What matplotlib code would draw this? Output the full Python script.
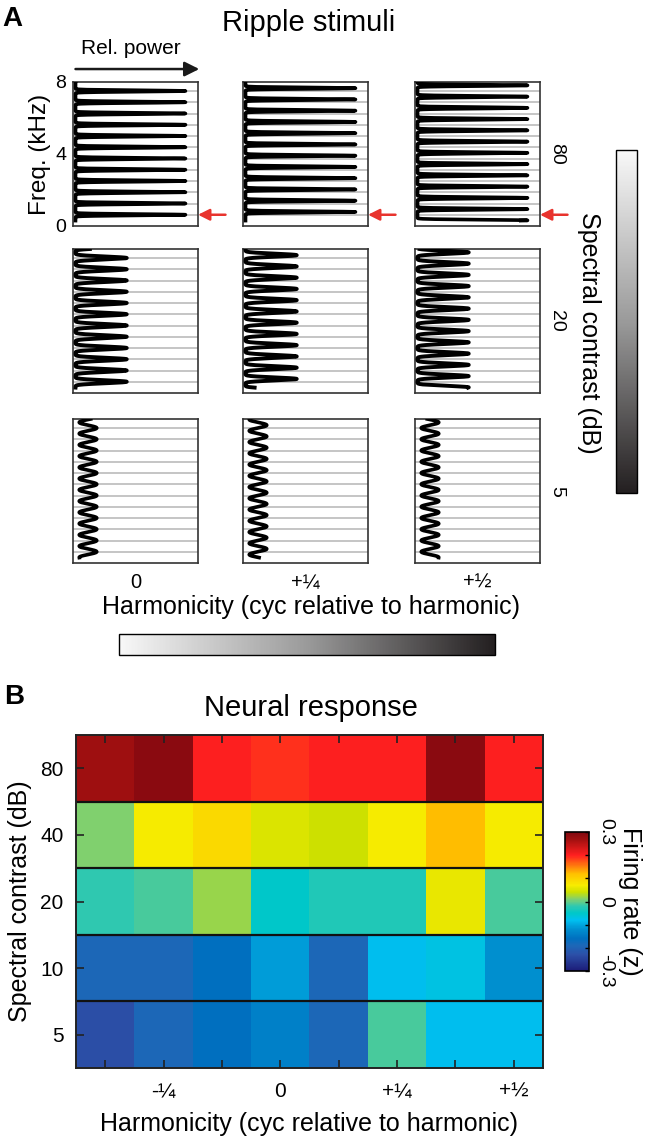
import numpy as np
import matplotlib
matplotlib.use('Agg')
import matplotlib.pyplot as plt
from matplotlib import font_manager
from matplotlib.colors import LinearSegmentedColormap, Normalize
from matplotlib.cm import ScalarMappable

# ---- data ----
# panel A: ripple stimuli
contrasts_a = [80, 20, 5]                 # dB, rows
shift_labels = ['0', '+\u00bc', '+\u00bd']  # columns
shifts = [0.0, 0.25, 0.5]                 # cycles relative to harmonic
f0 = 0.625                                # kHz, spacing of harmonics
n_harm = 12
f_lo, f_hi = 0.3, 8.0                     # kHz range of the drawn spectrum
trough_x = [0.02, 0.02, 0.05]             # rel. power at troughs, per contrast
peak_x = [0.90, 0.43, 0.19]               # rel. power at peaks, per contrast
sharpness = [16, 3, 1]                    # peak sharpness exponent, per contrast
line_w = [2.6, 2.8, 2.6]

# panel B: neural response (z-scored firing rate)
contrasts_b = [80, 40, 20, 10, 5]
harmonicity = [-3/8, -1/4, -1/8, 0, 1/8, 1/4, 3/8, 1/2]
harm_labels = ['', '-\u00bc', '', '0', '', '+\u00bc', '', '+\u00bd']
rate = np.array([
    [0.27, 0.29, 0.20, 0.19, 0.20, 0.20, 0.29, 0.20],
    [0.01, 0.07, 0.09, 0.05, 0.04, 0.07, 0.12, 0.07],
    [-0.02, -0.01, 0.02, -0.05, -0.03, -0.03, 0.06, -0.01],
    [-0.19, -0.19, -0.16, -0.11, -0.19, -0.08, -0.07, -0.12],
    [-0.23, -0.19, -0.16, -0.14, -0.19, -0.01, -0.08, -0.08],
])

W, H = 653, 1137


def rect(x0, y0, x1, y1):
    # pixel box (top-left origin) -> figure fraction
    return [x0 / W, 1 - y1 / H, (x1 - x0) / W, (y1 - y0) / H]


names = {f.name for f in font_manager.fontManager.ttflist}
sans = 'Liberation Sans' if 'Liberation Sans' in names else 'DejaVu Sans'
plt.rcParams['font.family'] = [sans, 'DejaVu Sans']

fig = plt.figure(figsize=(W / 100, H / 100), dpi=100)

# ---- panel A ----
col_x = [73, 243, 415]
row_y = [82, 249, 419]
box_w, box_h = 125, 144
freqs = np.linspace(f_lo, f_hi, 3000)
harmonics = f0 * np.arange(1, n_harm + 1)
axes_a = []
for i, c in enumerate(contrasts_a):
    for j, s in enumerate(shifts):
        ax = fig.add_axes(rect(col_x[j], row_y[i], col_x[j] + box_w, row_y[i] + box_h))
        for h in harmonics:
            ax.axhline(h, color='#b5b5b5', lw=1.1, zorder=1)
        g = ((1 + np.cos(2 * np.pi * (freqs / f0 - s))) / 2) ** sharpness[i]
        x = trough_x[i] + (peak_x[i] - trough_x[i]) * g
        ax.plot(x, freqs, color='black', lw=line_w[i], zorder=3)
        ax.set_xlim(0, 1)
        ax.set_ylim(0, 8)
        ax.set_xticks([])
        ax.set_yticks([])
        for sp in ax.spines.values():
            sp.set_color('#333333')
            sp.set_linewidth(1.2)
        if i == len(contrasts_a) - 1:
            ax.set_xticks([0.5])
            ax.set_xticklabels([shift_labels[j]], fontsize=14.5)
            ax.tick_params(axis='x', length=0, pad=7)
        if j == len(shifts) - 1:
            ax.text(1.13, 0.5, str(c), transform=ax.transAxes, rotation=-90,
                    ha='center', va='center', fontsize=14)
        if i == 0:
            ax.annotate('', xy=(1.0, f0), xytext=(1.22, f0),
                        xycoords=('axes fraction', 'data'), annotation_clip=False,
                        arrowprops=dict(arrowstyle='-|>', color='#e8332d', lw=1.8,
                                        mutation_scale=17, shrinkA=0, shrinkB=0))
        axes_a.append(ax)

ax0 = axes_a[0]
ax0.set_yticks([0, 4, 8])
ax0.tick_params(axis='y', length=0, labelsize=14, pad=5)
ax0.set_ylabel('Freq. (kHz)', fontsize=17.5, labelpad=3)
ax0.annotate('', xy=(1.01, 1.09), xytext=(0.02, 1.09), xycoords='axes fraction',
             annotation_clip=False,
             arrowprops=dict(arrowstyle='-|>', color='#1a1a1a', lw=1.8,
                             mutation_scale=22, shrinkA=0, shrinkB=0))
ax0.text(0.46, 1.23, 'Rel. power', transform=ax0.transAxes, ha='center',
         va='center', fontsize=15)

fig.text(12 / W, 1 - 19 / H, 'A', fontsize=20, weight='bold', ha='center', va='center')
fig.text(309 / W, 1 - 23 / H, 'Ripple stimuli', fontsize=21, ha='center', va='center')
fig.text(311 / W, 1 - 607 / H, 'Harmonicity (cyc relative to harmonic)',
         fontsize=18, ha='center', va='center')
fig.text(589 / W, 1 - 333 / H, 'Spectral contrast (dB)', fontsize=18,
         rotation=-90, ha='center', va='center')

grey = LinearSegmentedColormap.from_list('grey', ['#f8f8f8', '#9a9a9a', '#231f20'])
cax_v = fig.add_axes(rect(616, 150, 637, 493))
cb_v = fig.colorbar(ScalarMappable(Normalize(min(contrasts_a), max(contrasts_a)),
                                   grey.reversed()), cax=cax_v)
cb_v.set_ticks([])
cb_v.outline.set_linewidth(1.0)
cax_h = fig.add_axes(rect(119, 634, 495, 655))
cb_h = fig.colorbar(ScalarMappable(Normalize(min(shifts), max(shifts)), grey),
                    cax=cax_h, orientation='horizontal')
cb_h.set_ticks([])
cb_h.outline.set_linewidth(1.0)

# ---- panel B ----
rate_cmap = LinearSegmentedColormap.from_list('rate', [
    (0.000, '#1c1c78'), (0.117, '#2c50a8'), (0.183, '#1c68b8'),
    (0.233, '#0070c0'), (0.300, '#0090d0'), (0.367, '#00c0f0'),
    (0.417, '#00c8c8'), (0.467, '#30c8b0'), (0.517, '#80d070'),
    (0.567, '#cce000'), (0.617, '#f8ec00'), (0.700, '#ffc000'),
    (0.767, '#ff7010'), (0.833, '#ff2020'), (0.950, '#a01010'),
    (1.000, '#800810')])

axb = fig.add_axes(rect(76, 735, 543, 1068))
im = axb.imshow(rate, cmap=rate_cmap, vmin=-0.3, vmax=0.3, aspect='auto',
                interpolation='nearest')
for k in range(1, len(contrasts_b)):
    axb.axhline(k - 0.5, color='#111111', lw=1.6)
axb.set_xticks(range(len(harmonicity)))
axb.set_xticklabels(harm_labels)
axb.set_yticks(range(len(contrasts_b)))
axb.set_yticklabels([str(c) for c in contrasts_b])
axb.tick_params(direction='in', length=6, width=1.2, top=True, right=True,
                labelsize=15, color='#222222')
axb.tick_params(axis='x', pad=10)
axb.tick_params(axis='y', pad=9)
for sp in axb.spines.values():
    sp.set_linewidth(1.4)
    sp.set_color('#222222')
axb.set_xlabel('Harmonicity (cyc relative to harmonic)', fontsize=18, labelpad=8)
axb.set_ylabel('Spectral contrast (dB)', fontsize=18, labelpad=6)
fig.text(14 / W, 1 - 697 / H, 'B', fontsize=20, weight='bold', ha='center', va='center')
fig.text(311 / W, 1 - 708 / H, 'Neural response', fontsize=21, ha='center',
         va='center')

caxb = fig.add_axes(rect(565, 832, 589, 971))
cb_b = fig.colorbar(im, cax=caxb)
cb_b.set_ticks([-0.3, 0, 0.3])
cb_b.set_ticklabels(['-0.3', '0', '0.3'])
cb_b.ax.set_yticks(np.arange(-0.3, 0.31, 0.1), minor=True)
cb_b.ax.tick_params(which='both', direction='in', length=3, width=1.0,
                    labelsize=14, labelrotation=-90, pad=6)
for lab in cb_b.ax.get_yticklabels():
    lab.set_va('center')
cb_b.outline.set_linewidth(1.2)
cb_b.set_label('Firing rate (z)', rotation=-90, fontsize=18, labelpad=20)

fig.savefig('out.png', dpi=100)
